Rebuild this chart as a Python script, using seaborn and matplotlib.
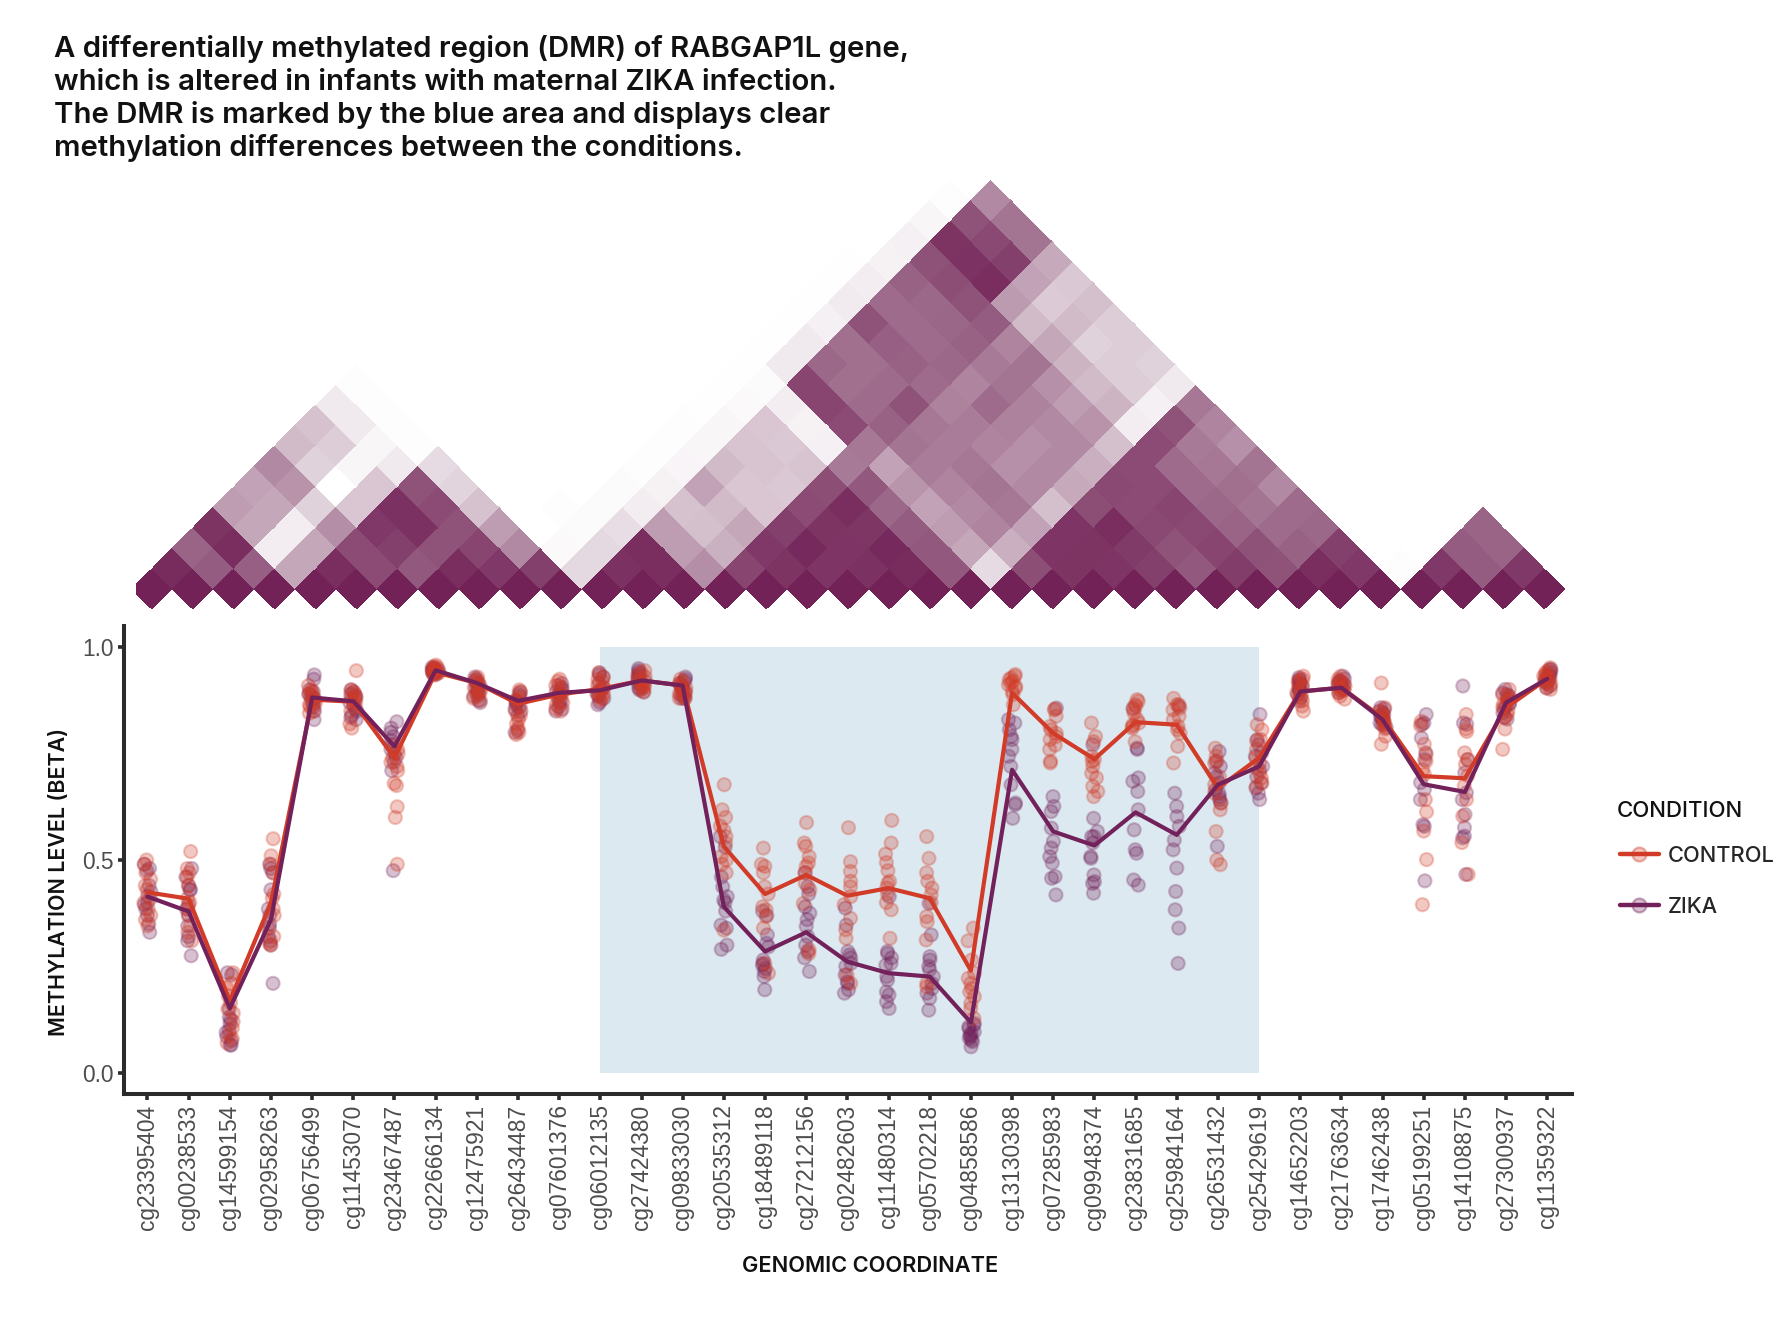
import numpy as np
import pandas as pd
import matplotlib
matplotlib.use("Agg")
import matplotlib.pyplot as plt
from matplotlib.colors import LinearSegmentedColormap, to_rgba
from matplotlib.lines import Line2D
from matplotlib.transforms import Affine2D
import seaborn as sns

cpgs = ["cg23395404","cg00238533","cg14599154","cg02958263","cg06756499","cg11453070","cg23467487",
        "cg22666134","cg12475921","cg26434487","cg07601376","cg06012135","cg27424380","cg09833030",
        "cg20535312","cg18489118","cg27212156","cg02482603","cg11480314","cg05702218","cg04858586",
        "cg13130398","cg07285983","cg09948374","cg23831685","cg25984164","cg26531432","cg25429619",
        "cg14652203","cg21763634","cg17462438","cg05199251","cg14108875","cg27300937","cg11359322"]

control_mean = [.424,.409,.169,.40,.877,.872,.74,.941,.916,.867,.889,.902,.922,.91,.532,.42,.465,.416,.434,.41,.24,
                .893,.798,.737,.824,.818,.669,.74,.896,.905,.834,.697,.692,.858,.926]
zika_mean = [.414,.379,.151,.36,.882,.873,.767,.946,.916,.874,.893,.899,.922,.91,.39,.285,.33,.261,.234,.226,.118,
             .712,.567,.534,.612,.559,.677,.72,.896,.905,.83,.678,.66,.87,.926]

control_samples = [
 [.50,.49,.47,.455,.44,.43,.41,.40,.385,.37,.36,.345],
 [.52,.48,.47,.46,.44,.41,.40,.385,.37,.345,.33,.31],
 [.235,.21,.20,.18,.165,.15,.14,.12,.105,.09,.08,.07],
 [.55,.51,.49,.47,.42,.41,.385,.37,.34,.32,.305,.30],
 [.91,.90,.895,.89,.885,.88,.875,.87,.865,.86,.85,.845],
 [.945,.90,.895,.89,.885,.88,.875,.87,.86,.85,.82,.81],
 [.77,.76,.75,.74,.73,.72,.71,.68,.675,.625,.60,.49],
 [.958,.955,.952,.95,.948,.946,.945,.943,.94,.94,.938,.935],
 [.93,.925,.92,.915,.91,.905,.90,.895,.89,.885,.88,.875],
 [.90,.895,.88,.875,.86,.85,.84,.83,.82,.81,.80,.795],
 [.925,.92,.91,.905,.895,.89,.885,.88,.87,.865,.855,.85],
 [.94,.93,.925,.92,.91,.905,.90,.895,.89,.885,.88,.875],
 [.945,.94,.935,.93,.925,.92,.915,.91,.905,.905,.90,.895],
 [.925,.92,.915,.91,.905,.90,.895,.895,.89,.885,.88,.88],
 [.677,.618,.60,.58,.57,.555,.54,.508,.50,.49,.47,.335],
 [.528,.49,.485,.47,.437,.42,.39,.383,.367,.34,.257,.234],
 [.588,.54,.532,.508,.493,.485,.47,.445,.43,.398,.289,.28],
 [.576,.496,.473,.45,.437,.414,.395,.363,.336,.316,.23,.21],
 [.593,.54,.514,.494,.475,.45,.445,.434,.42,.40,.383,.316],
 [.555,.504,.47,.45,.434,.418,.40,.367,.355,.312,.21,.202],
 [.34,.31,.265,.234,.222,.21,.198,.19,.179,.163,.151,.128],
 [.936,.932,.928,.924,.92,.916,.912,.908,.904,.896,.889,.865],
 [.855,.853,.838,.814,.806,.798,.79,.783,.77,.76,.732,.728],
 [.822,.79,.778,.744,.736,.732,.72,.704,.693,.673,.661,.649],
 [.877,.873,.865,.861,.853,.845,.83,.822,.818,.814,.81,.778],
 [.88,.865,.865,.857,.853,.838,.83,.814,.806,.798,.767,.728],
 [.763,.744,.732,.728,.696,.677,.657,.634,.618,.567,.50,.489],
 [.818,.806,.783,.78,.76,.74,.728,.716,.704,.693,.681,.673],
 [.932,.925,.921,.916,.909,.901,.893,.889,.882,.874,.862,.850],
 [.932,.925,.921,.916,.913,.909,.905,.901,.898,.893,.885,.878],
 [.916,.858,.850,.842,.838,.831,.826,.819,.815,.808,.791,.772],
 [.826,.816,.772,.748,.732,.713,.701,.642,.613,.568,.501,.395],
 [.842,.808,.802,.752,.736,.725,.698,.674,.642,.603,.541,.466],
 [.901,.889,.885,.878,.874,.866,.858,.850,.842,.835,.808,.760],
 [.952,.945,.941,.936,.932,.929,.925,.921,.916,.913,.905,.901],
]
zika_samples = [
 [.49,.48,.475,.44,.425,.415,.40,.395,.385,.37,.35,.33],
 [.48,.46,.44,.43,.43,.395,.385,.37,.345,.32,.31,.275],
 [.235,.23,.15,.13,.125,.115,.10,.095,.085,.075,.065,.065],
 [.49,.48,.47,.43,.385,.37,.35,.34,.32,.31,.30,.21],
 [.935,.925,.90,.895,.89,.885,.88,.875,.865,.86,.85,.83],
 [.90,.895,.89,.885,.88,.87,.865,.855,.85,.84,.835,.83],
 [.825,.81,.80,.79,.78,.77,.76,.75,.74,.73,.71,.475],
 [.953,.951,.95,.948,.946,.945,.944,.942,.94,.94,.938,.936],
 [.93,.925,.92,.915,.91,.905,.90,.895,.89,.885,.875,.87],
 [.895,.89,.885,.875,.87,.865,.86,.855,.85,.84,.805,.80],
 [.915,.91,.905,.90,.895,.89,.885,.875,.87,.86,.855,.85],
 [.94,.935,.93,.915,.905,.90,.895,.89,.885,.88,.87,.865],
 [.95,.945,.94,.935,.93,.925,.92,.915,.91,.905,.90,.895],
 [.93,.925,.92,.915,.91,.905,.90,.895,.89,.885,.88,.88],
 [.555,.53,.46,.437,.414,.406,.40,.38,.347,.34,.30,.29],
 [.38,.37,.324,.304,.296,.265,.257,.253,.245,.238,.226,.195],
 [.47,.437,.42,.39,.375,.36,.344,.32,.30,.285,.27,.238],
 [.387,.347,.285,.277,.27,.257,.25,.23,.214,.21,.195,.187],
 [.414,.285,.28,.27,.257,.253,.226,.218,.19,.183,.167,.151],
 [.398,.324,.273,.265,.25,.242,.226,.21,.198,.187,.175,.147],
 [.116,.112,.108,.104,.096,.093,.089,.085,.081,.077,.073,.061],
 [.83,.822,.806,.79,.783,.76,.744,.72,.677,.634,.63,.598],
 [.857,.649,.626,.614,.575,.544,.528,.508,.493,.461,.457,.418],
 [.771,.598,.567,.555,.555,.54,.508,.504,.465,.449,.445,.422],
 [.857,.763,.76,.693,.685,.661,.618,.571,.524,.516,.453,.441],
 [.861,.657,.626,.602,.579,.547,.524,.481,.426,.383,.34,.257],
 [.755,.732,.72,.704,.696,.681,.665,.657,.649,.642,.634,.532],
 [.842,.783,.771,.752,.744,.72,.712,.696,.681,.669,.657,.642],
 [.929,.925,.921,.916,.913,.909,.905,.901,.898,.889,.882,.874],
 [.932,.926,.921,.919,.916,.913,.911,.909,.905,.901,.898,.893],
 [.858,.855,.850,.846,.842,.838,.835,.831,.826,.822,.819,.811],
 [.842,.822,.819,.787,.752,.736,.682,.666,.642,.583,.579,.451],
 [.909,.822,.819,.736,.705,.658,.642,.607,.576,.556,.552,.466],
 [.901,.893,.889,.885,.878,.869,.866,.862,.855,.846,.835,.831],
 [.948,.948,.942,.937,.933,.931,.926,.923,.92,.915,.909,.904],
]

# Correlation tiles, one list per lag (distance between the two CpGs), read left to right.
lag_00 = [1.0] * 35
lag_01 = [.93,.68,.67,.38,.92,.75,.70,.92,.85,.80,.17,.90,.92,.48,.78,.88,.87,.90,.93,.70,.16,.74,.88,.87,.80,.70,.82,.72,.92,.85,.01,.85,.68,.85]
lag_02 = [.65,.92,.08,.38,.75,.80,.72,.78,.50,.03,.17,.92,.42,.34,.85,.95,.87,.95,.70,.38,.35,.87,.88,.83,.72,.78,.73,.66,.80,0,0,.68,.65]
lag_03 = [.88,.38,.08,.48,.85,.90,.72,.42,0,.02,.15,.42,.28,.38,.80,.88,.86,.68,.42,.52,.40,.87,.92,.76,.76,.65,.62,.63,0,0,0,.65]
lag_04 = [.42,.38,.20,.25,.90,.75,.27,0,.01,.02,.08,.27,.30,.25,.75,.92,.63,.40,.50,.57,.28,.74,.75,.78,.63,.58,.62,0,0,0,0]
lag_05 = [.40,.46,0,.25,.72,.19,0,0,0,.02,.06,.40,.25,.24,.74,.70,.45,.52,.58,.50,.37,.76,.75,.62,.60,.50,0,0,0,0]
lag_06 = [.50,.20,.04,.10,.16,0,0,0,0,.01,.05,.30,.26,.26,.56,.40,.55,.57,.47,.50,.35,.75,.62,.57,.58,0,0,0,0]
lag_07 = [.30,.22,.04,.01,0,0,0,0,0,.01,.04,.26,.24,.07,.57,.58,.55,.52,.47,.50,.28,.75,.56,.47,0,0,0,0]
lag_08 = [.27,.10,.01,0,0,0,0,0,0,.01,.04,.25,.06,.75,.66,.57,.55,.53,.50,.46,.08,.72,.52,0,0,0,0]
lag_09 = [.10,.01,0,0,0,0,0,0,0,.005,.03,.08,.78,.62,.72,.53,.62,.53,.42,.33,.07,.57,0,0,0,0]
lag_10 = [.01,0,0,0,0,0,0,0,0,.005,.02,.78,.60,.62,.62,.52,.58,.47,.30,.22,.10,0,0,0,0]
lag_11 = [0,0,0,0,0,0,0,0,0,.005,.10,.63,.60,.66,.63,.56,.58,.33,.22,.20,0,0,0,0]
lag_12 = [0,0,0,0,0,0,0,0,0,.005,.10,.60,.67,.62,.66,.52,.38,.20,.22,0,0,0,0]
lag_13 = [0,0,0,0,0,0,0,0,0,.005,.07,.72,.62,.64,.68,.30,.30,.22,0,0,0,0]
lag_14 = [0,0,0,0,0,0,0,0,0,.005,.09,.62,.63,.72,.43,.23,.28,0,0,0,0]
lag_15 = [0,0,0,0,0,0,0,0,0,.005,.08,.66,.74,.92,.40,.24,0,0,0,0]
lag_16 = [0,0,0,0,0,0,0,0,0,.005,.06,.73,.89,.80,.37,0,0,0,0]
lag_17 = [0,0,0,0,0,0,0,0,0,0,.07,.88,.76,.58,0,0,0,0]
lag_18 = [0,0,0,0,0,0,0,0,0,0,.04,.72,.58,0,0,0,0]
lag_19 = [0,0,0,0,0,0,0,0,0,0,.01,.50,0,0,0,0]
lags = [lag_00,lag_01,lag_02,lag_03,lag_04,lag_05,lag_06,lag_07,lag_08,lag_09,
        lag_10,lag_11,lag_12,lag_13,lag_14,lag_15,lag_16,lag_17,lag_18,lag_19]

PLUM = "#72215A"
RED = "#D13B27"
TEXT_FONT = "Inter"
TICK_FONT = "Liberation Sans"

W, H = 1792, 1332
sns.set_theme(style="white")
plt.rcParams["font.family"] = [TEXT_FONT, "DejaVu Sans"]
fig = plt.figure(figsize=(W / 100, H / 100), dpi=100, facecolor="white")

def rect(left, top, right, bottom):
    return [left / W, (H - bottom) / H, (right - left) / W, (bottom - top) / H]

# ---- rotated correlation triangle
n = len(cpgs)
corr = np.zeros((n, n))
for d, vals in enumerate(lags):
    for i, v in enumerate(vals):
        corr[i, i + d] = v
mask = np.tril(np.ones((n, n), dtype=bool), -1)
tri_left, tri_top, tri_right, tri_bottom = 136, 170, 1572, 612
ax_tri = fig.add_axes(rect(tri_left, tri_top, tri_right, tri_bottom))
cmap = LinearSegmentedColormap.from_list(
    "w_plum", [(0, "#FFFFFF"), (.3, "#D1BBC9"), (.6, "#A1708F"), (.8, "#84406C"), (1, "#722257")])
sns.heatmap(pd.DataFrame(corr), mask=mask, cmap=cmap, vmin=0, vmax=1, cbar=False,
            xticklabels=False, yticklabels=False, ax=ax_tri, linewidths=0)
mesh = ax_tri.collections[0]
mesh.set_transform(Affine2D.from_values(.5, 1, .5, -1, 0, 0) + ax_tri.transData)
sx, sy = 40.96, 20.45
x0px, y0px = 151.8, 589.0
ax_tri.set_xlim(.5 + (tri_left - x0px) / sx, .5 + (tri_right - x0px) / sx)
ax_tri.set_ylim((y0px - tri_bottom) / sy, (y0px - tri_top) / sy)
ax_tri.axis("off")

# ---- methylation panel
rows = []
for name, samples in (("ZIKA", zika_samples), ("CONTROL", control_samples)):
    for cpg, vals in zip(cpgs, samples):
        rows += [(cpg, name, v) for v in vals]
points = pd.DataFrame(rows, columns=["cpg", "condition", "beta"])

ax = fig.add_axes(rect(124, 626, 1572, 1094))
ax.fill_between([cpgs.index("cg06012135"), cpgs.index("cg25429619")], 0, 1,
                color="#DCE9F0", lw=0, zorder=0)
np.random.seed(7)
sns.stripplot(data=points, x="cpg", y="beta", hue="condition", order=cpgs,
              hue_order=["ZIKA", "CONTROL"], palette={"ZIKA": PLUM, "CONTROL": RED},
              jitter=.09, size=9.5, alpha=.28, linewidth=1.5, edgecolor="face",
              legend=False, ax=ax, zorder=2)
positions = np.arange(n)
sns.lineplot(x=positions, y=control_mean, color=RED, lw=3.0, sort=False, ax=ax, zorder=3,
             solid_joinstyle="round", solid_capstyle="round")
sns.lineplot(x=positions, y=zika_mean, color=PLUM, lw=3.0, sort=False, ax=ax, zorder=4,
             solid_joinstyle="round", solid_capstyle="round")
ax.set_xlim(-.57, n - 1 + .6)
ax.set_ylim(-.05, 1.05)
ax.set_yticks([0, .5, 1])
ax.set_yticklabels(["0.0", "0.5", "1.0"])
ax.set_xticks(positions)
ax.set_xticklabels(cpgs, rotation=90)
ax.tick_params(axis="both", length=4.5, width=2.6, color="#2B2B2B", left=True, bottom=True, pad=3)
for label in ax.get_xticklabels() + ax.get_yticklabels():
    label.set_fontfamily(TICK_FONT)
    label.set_fontsize(16.4)
    label.set_color("#4D4D4D")
sns.despine(ax=ax)
for side in ("left", "bottom"):
    ax.spines[side].set_linewidth(2.9)
    ax.spines[side].set_color("#2B2B2B")
ax.set_xlabel("")
ax.set_ylabel("")
fig.text(870 / W, 1 - 1266 / H, "GENOMIC COORDINATE", ha="center", va="center",
         fontsize=15.7, fontweight="semibold", color="#111111")
fig.text(59 / W, 1 - 882 / H, "METHYLATION LEVEL (BETA)", rotation=90, ha="center", va="center",
         fontsize=15.4, fontweight="semibold", color="#111111")

# ---- title
title_lines = ["A differentially methylated region (DMR) of RABGAP1L gene,",
               "which is altered in infants with maternal ZIKA infection.",
               "The DMR is marked by the blue area and displays clear",
               "methylation differences between the conditions."]
for line, y in zip(title_lines, [49, 82, 115, 148]):
    fig.text(54 / W, 1 - y / H, line, ha="left", va="center", fontsize=21.15,
             fontweight="semibold", color="#111111")

# ---- legend
fig.text(1617 / W, 1 - 811 / H, "CONDITION", ha="left", va="center", fontsize=16,
         fontweight="medium", color="#111111")
handles = [Line2D([], [], color=c, lw=3.2, marker="o", markersize=10,
                  markerfacecolor=to_rgba(c, .28), markeredgecolor=to_rgba(c, .4), markeredgewidth=1.6)
           for c in (RED, PLUM)]
fig.legend(handles, ["CONTROL", "ZIKA"], loc="upper left", bbox_to_anchor=(1620 / W, 1 - 846 / H),
           bbox_transform=fig.transFigure, frameon=False, prop={"size": 15.7, "weight": "medium"},
           handlelength=1.78, handletextpad=.4, labelspacing=1.42, borderaxespad=0, borderpad=0)

fig.savefig("out.png", dpi=100, facecolor="white")
